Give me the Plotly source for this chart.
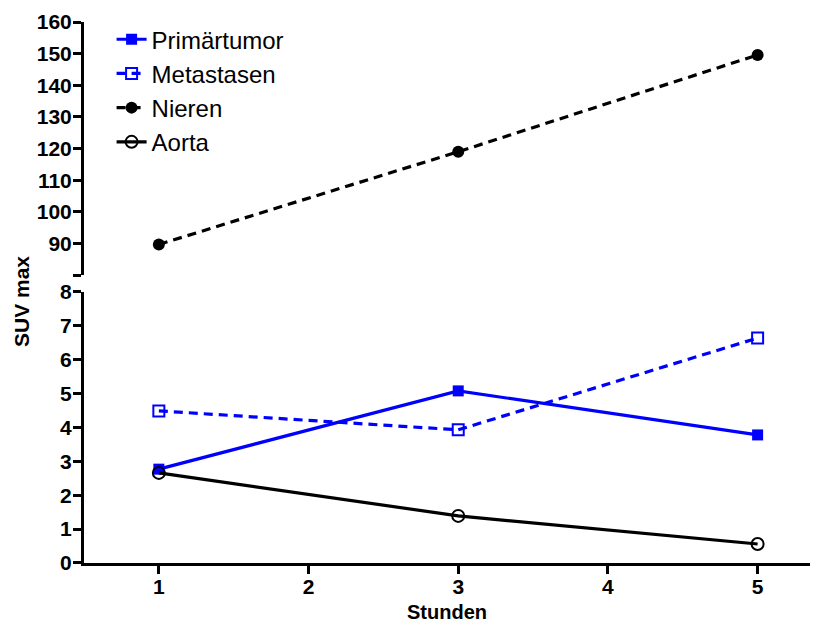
import plotly.graph_objects as go

hours = [1, 3, 5]
primaertumor = [2.77, 5.08, 3.78]
metastasen = [4.49, 3.93, 6.64]
nieren = [89.7, 119.0, 149.6]
aorta = [2.66, 1.39, 0.56]

x_ticks = [1, 2, 3, 4, 5]
lower_ticks = [0, 1, 2, 3, 4, 5, 6, 7, 8]
upper_ticks = [80, 90, 100, 110, 120, 130, 140, 150, 160]
upper_ticktext = [""] + [str(v) for v in upper_ticks[1:]]

BLUE = "#0000ff"
BLACK = "#000000"
DASH = "9px,6px"
FONT = "Liberation Sans, Arial, sans-serif"

fig = go.Figure()
fig.add_trace(go.Scatter(x=hours, y=primaertumor, name="Primärtumor", mode="lines+markers",
                         line=dict(color=BLUE, width=3.2),
                         marker=dict(symbol="square", size=11, color=BLUE),
                         xaxis="x", yaxis="y"))
fig.add_trace(go.Scatter(x=hours, y=metastasen, name="Metastasen", mode="lines+markers",
                         line=dict(color=BLUE, width=3.2, dash=DASH),
                         marker=dict(symbol="square-open", size=11, color=BLUE, line=dict(width=2)),
                         xaxis="x", yaxis="y"))
fig.add_trace(go.Scatter(x=hours, y=nieren, name="Nieren", mode="lines+markers",
                         line=dict(color=BLACK, width=3.2, dash=DASH),
                         marker=dict(symbol="circle", size=12, color=BLACK),
                         xaxis="x", yaxis="y2"))
fig.add_trace(go.Scatter(x=hours, y=aorta, name="Aorta", mode="lines+markers",
                         line=dict(color=BLACK, width=3.2),
                         marker=dict(symbol="circle-open", size=12, color=BLACK, line=dict(width=2)),
                         xaxis="x", yaxis="y"))

tickfont = dict(family=FONT, size=21, color="black", weight="bold")
axis_common = dict(showgrid=False, zeroline=False, showline=True, linecolor="black", linewidth=3,
                   ticks="outside", ticklen=8, tickwidth=2.5, tickcolor="black",
                   tickfont=tickfont, automargin=False)

PLOT_H = 626 - 22 - 63
PLOT_W = 827 - 84 - 17

fig.update_layout(
    width=827, height=626,
    margin=dict(l=84, r=17, t=22, b=63),
    plot_bgcolor="white", paper_bgcolor="white",
    showlegend=True,
    legend=dict(x=0.038, y=1.009, xanchor="left", yanchor="top",
                font=dict(family=FONT, size=24, color="black"),
                bgcolor="rgba(0,0,0,0)", tracegroupgap=0, itemwidth=30),
    xaxis=dict(range=[0.5, 5.35], tickvals=x_ticks, anchor="y",
               ticklabelstandoff=-5, **axis_common),
    yaxis=dict(domain=[0, 0.501], range=[0, 8], tickvals=lower_ticks, anchor="x",
               ticklabelstandoff=-3, **axis_common),
    yaxis2=dict(domain=[0.532, 1.0], range=[80, 160], tickvals=upper_ticks, ticktext=upper_ticktext,
                anchor="x", ticklabelstandoff=-3, **axis_common),
    annotations=[
        dict(text="<b>SUV max</b>", x=(21 - 84) / PLOT_W, xref="paper",
             y=(563 - 302) / PLOT_H, yref="paper",
             xanchor="center", yanchor="middle", textangle=-90, showarrow=False,
             font=dict(family=FONT, size=21, color="black")),
        dict(text="<b>Stunden</b>", x=0.5, xref="paper",
             y=(563 - 612) / PLOT_H, yref="paper",
             xanchor="center", yanchor="middle", showarrow=False,
             font=dict(family=FONT, size=20, color="black")),
    ],
)

fig.write_html("out.html")
